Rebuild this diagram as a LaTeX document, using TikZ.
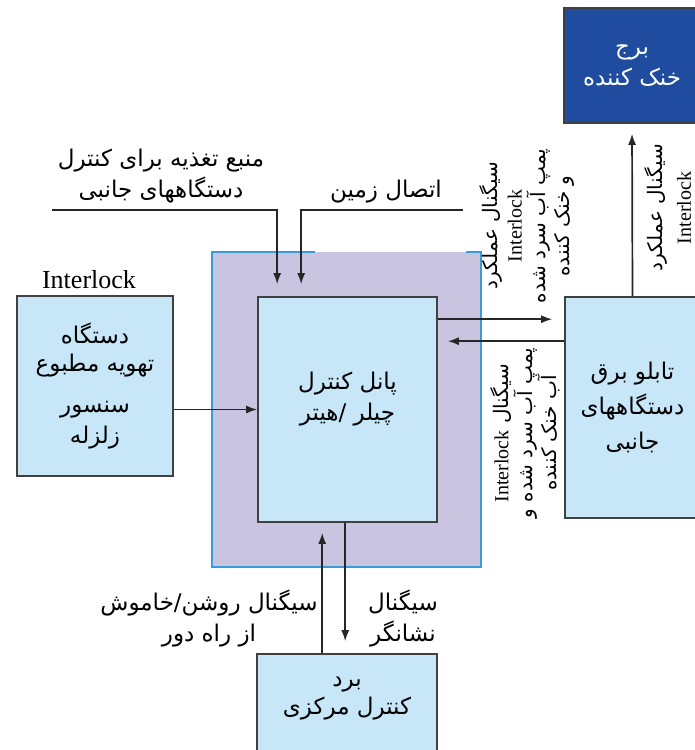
\documentclass[tikz,border=0pt]{standalone}
\usepackage{fontspec}
\newfontfamily\farsi[Script=Arabic]{DejaVu Sans}
\newfontfamily\latin{Liberation Serif}
\TeXXeTstate=1
\usetikzlibrary{positioning,arrows.meta}
\definecolor{boxblue}{HTML}{C7E7F8}
\definecolor{towerblue}{HTML}{1F4C9E}
\definecolor{lavender}{HTML}{C9C5E0}
\definecolor{edgeblue}{HTML}{3A9BDC}
\newcommand{\fa}[1]{\beginR #1\endR}
\newcommand{\en}[1]{\beginL{\latin #1}\endL{}}
\tikzset{
  unit/.style={draw=black!75, line width=1.6pt, fill=boxblue, inner sep=0pt},
  txt/.style={font=\farsi\fontsize{23}{31}\selectfont, align=center},
  rtxt/.style={font=\farsi\fontsize{20}{24}\selectfont, align=center, rotate=90},
  wire/.style={line width=1.7pt, black!85},
}
\begin{document}
\begin{tikzpicture}[x=1pt, y=-1pt, >={Latex[length=11pt,width=8pt]}]
\useasboundingbox (0,0) rectangle (694,750);
% chiller housing
\fill[lavender] (212,252) rectangle (481,567);
\draw[edgeblue, line width=2pt] (315,252) -- (212,252) -- (212,567) -- (481,567) -- (481,252) -- (466,252);
% units
\node[unit, minimum width=179pt, minimum height=225pt] (panel) at (347.5,409.5) {};
\node[txt] (paneltxt) at (347.5,399) {\fa{پانل کنترل}\\\fa{چیلر /هیتر}};
\node[unit, minimum width=156pt, minimum height=180pt, txt] (hvac) at (95,386)
  {\fa{دستگاه}\\[-3pt]\fa{تهویه مطبوع}\\[10pt]\fa{سنسور}\\\fa{زلزله}};
\node[font=\latin\fontsize{26}{28}\selectfont] (ilock) at (89,280) {Interlock};
\node[unit, minimum width=135pt, minimum height=221pt, txt] (tablo) at (632.5,407.5)
  {\fa{تابلو برق}\\[4pt]\fa{دستگاههای}\\[4pt]\fa{جانبی}};
\node[unit, fill=towerblue, text=white, minimum width=136pt, minimum height=115pt, txt] (tower) at (632,65.5)
  {\fa{برج}\\\fa{خنک کننده}};
\node[unit, minimum width=180pt, minimum height=106pt] (board) at (347,707) {};
\node[txt] (boardtxt) at (347,699) {\fa{برد}\\[-3pt]\fa{کنترل مرکزی}};
% labels
\node[txt] (supply) at (161,176) {\fa{منبع تغذیه برای کنترل}\\\fa{دستگاههای جانبی}};
\node[txt] (earth) at (386,192) {\fa{اتصال زمین}};
\node[rtxt] (runsig) at (527,226)
  {\fa{سیگنال عملکرد}\\\en{Interlock}\\\fa{پمپ آب سرد شده}\\\fa{و خنک کننده}};
\node[rtxt] (locksig) at (525,433)
  {\fa{سیگنال \en{Interlock}}\\\fa{پمپ آب سرد شده و}\\\fa{آب خنک کننده}};
\node[rtxt, font=\farsi\fontsize{20}{28}\selectfont] (towersig) at (668,208)
  {\fa{سیگنال عملکرد}\\\en{Interlock}};
\node[txt] (onoff) at (209,618) {\fa{سیگنال روشن/خاموش}\\\fa{از راه دور}};
\node[txt] (indsig) at (403,618) {\fa{سیگنال}\\\fa{نشانگر}};
% connectors
\coordinate (pwr) at (52,210);
\coordinate (gnd) at (463,210);
\draw[wire, ->, shorten >=12pt] (pwr) -| ([xshift=20pt]panel.north west);
\draw[wire, ->, shorten >=12pt] (gnd) -| ([xshift=44pt]panel.north west);
\draw[wire, ->] (hvac.east |- panel.west) -- (panel.west);
\coordinate (p1) at ([yshift=-23pt]panel.north east);
\coordinate (p2) at ([yshift=-45pt]panel.north east);
\draw[wire, ->, shorten >=12pt] (p1) -- (p1 -| tablo.west);
\draw[wire, ->, shorten >=10pt] (p2 -| tablo.west) -- (p2);
\draw[wire, ->, shorten >=10pt] (tablo.north) -- (tower.south);
\coordinate (b1) at ([xshift=66pt]board.north west);
\coordinate (b2) at ([xshift=88pt]panel.south west);
\draw[wire, ->, shorten >=10pt] (b1) -- (b1 |- panel.south);
\draw[wire, ->, shorten >=12pt] (b2) -- (b2 |- board.north);
\end{tikzpicture}
\end{document}
